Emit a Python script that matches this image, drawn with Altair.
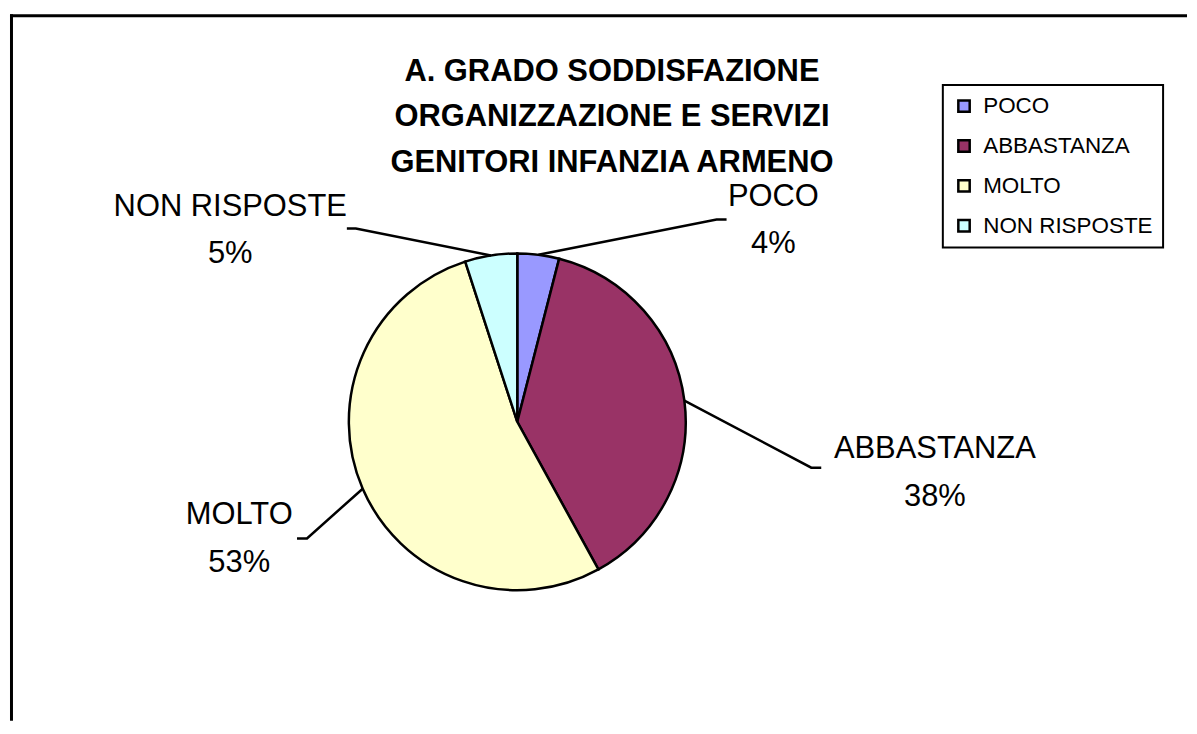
import math
import altair as alt
import pandas as pd

# ---- data ----
categories = ["POCO", "ABBASTANZA", "MOLTO", "NON RISPOSTE"]
values = [4, 38, 53, 5]
colors = ["#9999FF", "#993366", "#FFFFCC", "#CCFFFF"]
title_lines = ["A. GRADO SODDISFAZIONE", "ORGANIZZAZIONE E SERVIZI", "GENITORI INFANZIA ARMENO"]

# ---- layout (plot pixels) ----
W, H = 1181, 714
CX, CY, R = 509, 414, 169
FONT = "Liberation Sans"
label_xy = {
    "POCO": (766, 197),
    "ABBASTANZA": (928, 450),
    "MOLTO": (230, 517),
    "NON RISPOSTE": (221, 207),
}
leader_pts = {
    "POCO": [(709, 211), (719, 211)],
    "ABBASTANZA": [(804, 460), (814, 460)],
    "MOLTO": [(298, 531), (288, 531)],
    "NON RISPOSTE": [(347, 220), (338, 220)],
}

total = sum(values)
df = pd.DataFrame({
    "category": categories,
    "value": values,
    "idx": list(range(len(categories))),
    "label": [f"{c}\n{round(100 * v / total)}%" for c, v in zip(categories, values)],
    "lx": [label_xy[c][0] for c in categories],
    "ly": [label_xy[c][1] for c in categories],
})

rows = []
cum = 0
for c, v in zip(categories, values):
    mid = (cum + v / 2) / total
    cum += v
    a = 2 * math.pi * mid
    ex, ey = CX + R * math.sin(a), CY - R * math.cos(a)
    pts = [(ex, ey)] + leader_pts[c]
    for k, (px, py) in enumerate(pts):
        rows.append({"category": c, "seg": k, "px": px, "py": py})
leader_df = pd.DataFrame(rows)

one = pd.DataFrame({"a": [0]})

border_top = alt.Chart(one).mark_rule(color="black", strokeWidth=3).encode(
    x=alt.value(0), x2=alt.value(W), y=alt.value(6.5)
)
border_left = alt.Chart(one).mark_rule(color="black", strokeWidth=3).encode(
    x=alt.value(1.5), y=alt.value(5), y2=alt.value(H)
)

pie = alt.Chart(df).mark_arc(outerRadius=R, stroke="black", strokeWidth=2.5).encode(
    theta=alt.Theta("value:Q", stack=True),
    color=alt.Color(
        "category:N",
        scale=alt.Scale(domain=categories, range=colors),
        legend=alt.Legend(
            title=None,
            orient="none",
            legendX=936,
            legendY=76,
            strokeColor="black",
            fillColor="white",
            padding=10,
            symbolType="square",
            symbolSize=130,
            symbolStrokeColor="black",
            symbolStrokeWidth=2.5,
            labelFont=FONT,
            labelFontSize=22.5,
            labelColor="black",
            labelLimit=400,
            rowPadding=17,
            labelOffset=8,
        ),
    ),
    order=alt.Order("idx:Q"),
    x=alt.value(CX),
    y=alt.value(CY),
)

leaders = alt.Chart(leader_df).mark_line(color="black", strokeWidth=2.5).encode(
    x=alt.X("px:Q", scale=None, axis=None),
    y=alt.Y("py:Q", scale=None, axis=None),
    detail="category:N",
    order="seg:Q",
)

labels = alt.Chart(df).mark_text(
    font=FONT, fontSize=31, color="black", align="center", baseline="alphabetic",
    lineBreak="\n", lineHeight=48,
).encode(
    x=alt.X("lx:Q", scale=None, axis=None),
    y=alt.Y("ly:Q", scale=None, axis=None),
    text="label:N",
)

title_df = pd.DataFrame({"t": ["\n".join(title_lines)]})
title = alt.Chart(title_df).mark_text(
    font=FONT, fontSize=31, fontWeight="bold", color="black", align="center",
    baseline="alphabetic", lineBreak="\n", lineHeight=45.5,
).encode(x=alt.value(604), y=alt.value(72), text="t:N")

chart = alt.layer(border_top, border_left, pie, leaders, labels, title).properties(
    width=W, height=H, padding=0
).configure_view(strokeWidth=0).configure_legend(strokeWidth=2)

chart.save("out.html", embed_options={"renderer": "svg", "actions": False})
